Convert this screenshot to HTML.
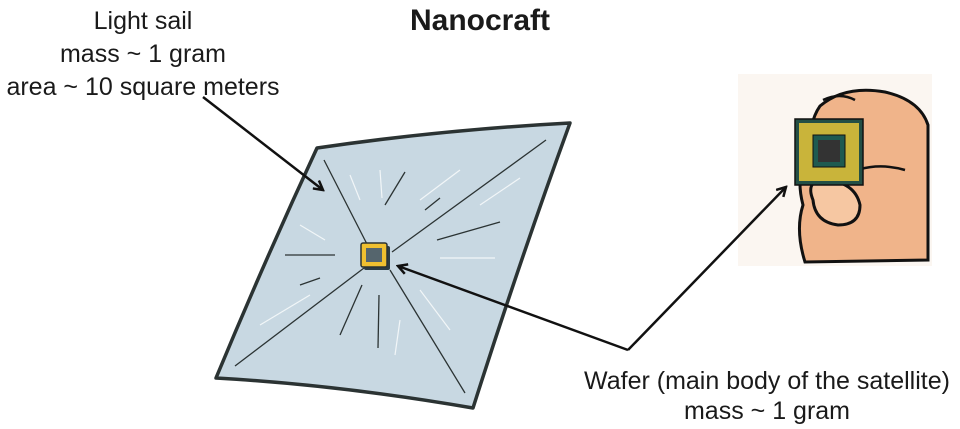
<!DOCTYPE html>
<html><head><meta charset="utf-8"><style>
html,body{margin:0;padding:0;background:#fff;}
body{width:960px;height:429px;position:relative;overflow:hidden;font-family:"Liberation Sans",sans-serif;color:#1a1a1a;}
.t{position:absolute;text-align:center;white-space:nowrap;}
</style></head><body>
<svg width="960" height="429" style="position:absolute;left:0;top:0">
<defs><marker id="a" markerWidth="12" markerHeight="12" refX="10" refY="6" orient="auto" markerUnits="userSpaceOnUse"><path d="M1,1 L10,6 L1,11" fill="none" stroke="#111" stroke-width="2.5"/></marker></defs>
<path d="M317,148 Q440,130 570,123 Q520,260 473,408 Q340,385 216,378 Q265,260 317,148Z" fill="#c8d8e2" stroke="#2b3333" stroke-width="3.5" stroke-linejoin="round"/>
<g stroke="#2b3333" stroke-width="1.3" fill="none">
<line x1="324" y1="160" x2="370" y2="250"/><line x1="546" y1="140" x2="392" y2="252"/>
<line x1="235" y1="366" x2="364" y2="268"/><line x1="465" y1="393" x2="390" y2="270"/>
<line x1="285" y1="255" x2="335" y2="255"/><line x1="437" y1="240" x2="500" y2="222"/>
<line x1="405" y1="172" x2="385" y2="205"/><line x1="340" y1="335" x2="362" y2="285"/>
<line x1="378" y1="348" x2="379" y2="295"/><line x1="425" y1="210" x2="440" y2="198"/>
<line x1="300" y1="285" x2="320" y2="278"/>
</g>
<g stroke="#f2f6f8" stroke-width="1.2" fill="none">
<line x1="350" y1="175" x2="360" y2="200"/><line x1="380" y1="170" x2="382" y2="198"/>
<line x1="460" y1="170" x2="420" y2="200"/><line x1="520" y1="178" x2="480" y2="205"/>
<line x1="300" y1="225" x2="325" y2="240"/><line x1="440" y1="258" x2="495" y2="258"/>
<line x1="260" y1="325" x2="310" y2="295"/><line x1="420" y1="290" x2="450" y2="330"/>
<line x1="400" y1="320" x2="395" y2="355"/>
</g>
<rect x="364" y="246" width="26" height="24" rx="2" fill="#2c3c44"/>
<rect x="361" y="243" width="26" height="24" rx="2" fill="#f0c030" stroke="#2b3333" stroke-width="1.5"/>
<rect x="366" y="248" width="16" height="14" fill="#55656d"/>
<rect x="738" y="74" width="194" height="192" fill="#fbf6f1"/>
<path d="M820,106 Q845,85 885,92 Q920,100 928,125 L928,260 L805,262 Q795,230 803,205 Q795,175 808,150 Q810,120 820,106Z" fill="#f0b48a" stroke="#111" stroke-width="3"/>
<path d="M840,178 Q870,160 905,170" fill="none" stroke="#111" stroke-width="2.5"/>
<path d="M813,200 Q805,180 825,180 Q855,182 860,205 Q860,225 838,225 Q815,222 813,200Z" fill="#f6c7a2" stroke="#111" stroke-width="3"/>
<path d="M823,100 Q840,92 855,100" fill="none" stroke="#111" stroke-width="2.5"/>
<rect x="795" y="119" width="68" height="66" fill="#234f45" stroke="#111" stroke-width="1.5"/>
<rect x="799" y="123" width="60" height="58" fill="#c9b43a"/>
<rect x="813" y="135" width="32" height="32" fill="#1f5a50" stroke="#111"/>
<rect x="818" y="140" width="22" height="22" fill="#333"/>
<line x1="203" y1="97" x2="323" y2="190" stroke="#111" stroke-width="2.5" marker-end="url(#a)"/>
<line x1="628" y1="350" x2="398" y2="266" stroke="#111" stroke-width="2.5" marker-end="url(#a)"/>
<line x1="628" y1="350" x2="786" y2="187" stroke="#111" stroke-width="2.5" marker-end="url(#a)"/>
</svg>
<div class="t" style="left:380px;width:200px;top:4px;font-size:30px;font-weight:bold;">Nanocraft</div>
<div class="t" style="left:-7px;width:300px;top:5px;font-size:25px;line-height:33px;">Light sail<br>mass ~ 1 gram<br>area ~ 10 square meters</div>
<div class="t" style="left:567px;width:400px;top:366px;font-size:25px;line-height:30px;">Wafer (main body of the satellite)<br>mass ~ 1 gram</div>
</body></html>
